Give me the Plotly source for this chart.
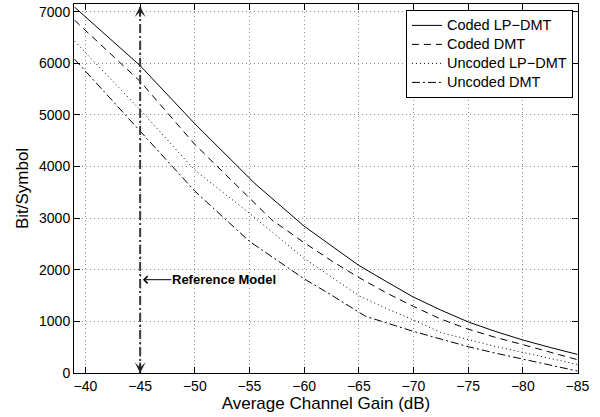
import plotly.graph_objects as go

# ---- data ----
gain_coded_lp = [-39, -45, -50, -55.5, -60, -62.5, -65, -67.5, -70, -72.5, -75, -77.5, -80, -82.5, -85]
coded_lp_dmt = [7090, 5955, 4830, 3670, 2845, 2460, 2085, 1775, 1470, 1220, 990, 805, 640, 495, 360]

gain_coded_dmt = [-39, -45, -50, -55, -57, -60, -62.5, -65, -67.5, -70, -72.5, -75, -77.5, -80, -82.5, -85]
coded_dmt = [6835, 5650, 4430, 3390, 2975, 2525, 2175, 1850, 1555, 1290, 1045, 850, 690, 550, 400, 258]

gain_uncoded_lp = [-39, -45, -50, -55, -60, -62.5, -65, -67.5, -70, -72.5, -75, -77.5, -80, -82.5, -85]
uncoded_lp_dmt = [6430, 5100, 3930, 3095, 2220, 1860, 1500, 1250, 1030, 785, 645, 515, 400, 280, 165]

gain_uncoded_dmt = [-39, -45, -50, -55, -60, -62.5, -65, -65.6, -70, -72.5, -75, -77.5, -80, -82.5, -85]
uncoded_dmt = [6080, 4690, 3525, 2550, 1825, 1510, 1190, 1100, 806, 655, 510, 385, 265, 150, 38]

series_names = ["Coded LP\u2212DMT", "Coded DMT", "Uncoded LP\u2212DMT", "Uncoded DMT"]

ref_gain = [-45, -45]
ref_bits = [0, 7105]
ref_label_y = 1808

x_ticks = [-40, -45, -50, -55, -60, -65, -70, -75, -80, -85]
y_ticks = [0, 1000, 2000, 3000, 4000, 5000, 6000, 7000]

FONT = "Liberation Sans, Arial, Helvetica, sans-serif"


def legend_label(s):
    return "<span style='font-size:14.5px'>" + s + "</span>"


fig = go.Figure()
fig.add_trace(go.Scatter(x=gain_coded_lp, y=coded_lp_dmt, mode="lines", name=legend_label(series_names[0]),
                         line=dict(color="black", width=1)))
fig.add_trace(go.Scatter(x=gain_coded_dmt, y=coded_dmt, mode="lines", name=legend_label(series_names[1]),
                         line=dict(color="black", width=1, dash="7px,5px")))
fig.add_trace(go.Scatter(x=gain_uncoded_lp, y=uncoded_lp_dmt, mode="lines", name=legend_label(series_names[2]),
                         line=dict(color="black", width=1, dash="1px,3px")))
fig.add_trace(go.Scatter(x=gain_uncoded_dmt, y=uncoded_dmt, mode="lines", name=legend_label(series_names[3]),
                         line=dict(color="black", width=1, dash="8px,3px,2px,3px")))
fig.add_trace(go.Scatter(x=ref_gain, y=ref_bits, mode="lines", showlegend=False,
                         line=dict(color="#3a3a3a", width=2, dash="9px,3px,2px,3px")))

# arrowheads at both ends of the reference line
fig.add_annotation(x=ref_gain[1], y=ref_bits[1], ax=0, ay=12, text="", showarrow=True,
                   arrowhead=3, arrowsize=1.2, arrowwidth=1.5, arrowcolor="#222")
fig.add_annotation(x=ref_gain[0], y=ref_bits[0], ax=0, ay=-12, text="", showarrow=True,
                   arrowhead=3, arrowsize=1.2, arrowwidth=1.5, arrowcolor="#222")
# Reference Model label
fig.add_annotation(x=-45.25, y=ref_label_y, ax=-52.65, ay=ref_label_y, axref="x", ayref="y",
                   text="<b>Reference Model</b>", showarrow=True, arrowhead=4, arrowsize=1.4,
                   arrowwidth=1, arrowcolor="black", standoff=0, borderpad=0,
                   font=dict(family=FONT, size=13, color="black"))

axis_common = dict(
    showline=True, linecolor="black", linewidth=1, mirror="ticks",
    ticks="inside", ticklen=6, tickcolor="black", tickwidth=1,
    showgrid=True, gridcolor="#8a8a8a", griddash="1px,3px", gridwidth=1,
    zeroline=False, tickfont=dict(family=FONT, size=14, color="black"),
    automargin=False,
)

fig.update_xaxes(range=[-38.95, -85.05], tickvals=x_ticks,
                 title=dict(text="Average Channel Gain (dB)", font=dict(family=FONT, size=17, color="black"), standoff=2),
                 **axis_common)
fig.update_yaxes(range=[0, 7150], tickvals=y_ticks, tickformat="d",
                 title=dict(text="Bit/Symbol", font=dict(family=FONT, size=17, color="black"), standoff=6),
                 **axis_common)

fig.update_layout(
    template="none",
    width=600, height=417,
    margin=dict(l=74, r=22, t=4, b=44),
    paper_bgcolor="white", plot_bgcolor="white",
    font=dict(family=FONT, color="black"),
    legend=dict(x=0.99, y=0.984, xanchor="right", yanchor="top",
                bgcolor="white", bordercolor="black", borderwidth=1,
                font=dict(family=FONT, size=11, color="black"),
                tracegroupgap=0, itemwidth=30),
)

fig.write_html("out.html", config={"displayModeBar": False},
               post_script="document.body.style.margin='0';document.body.style.overflow='hidden';")
